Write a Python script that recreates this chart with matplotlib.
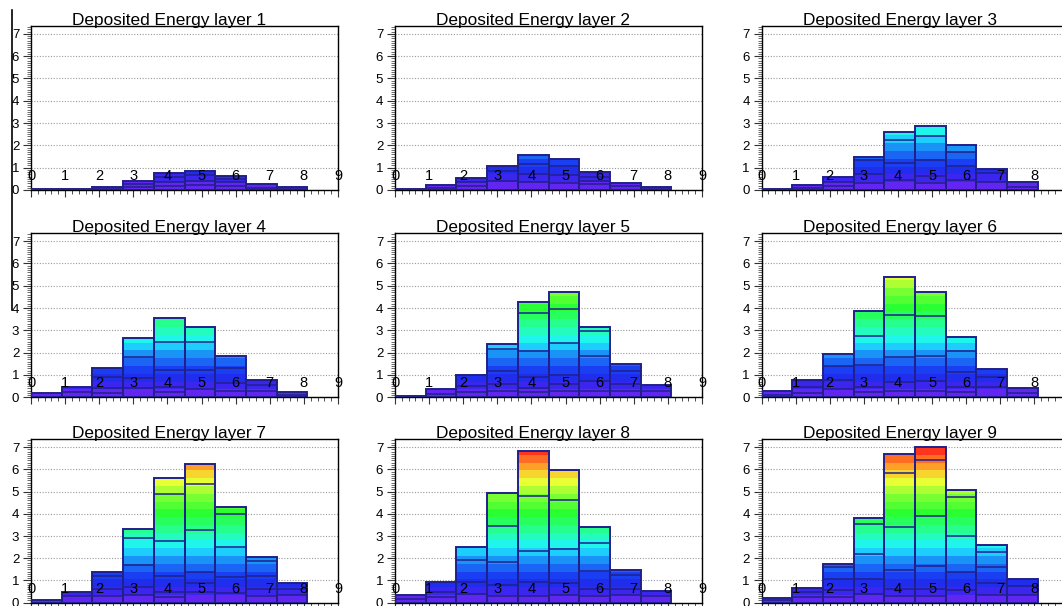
import numpy as np
import matplotlib
matplotlib.use("Agg")
import matplotlib.pyplot as plt
from matplotlib.lines import Line2D
from matplotlib.colors import LinearSegmentedColormap
from matplotlib.ticker import FixedLocator, MultipleLocator, NullFormatter

plt.rcParams["font.family"] = ["Liberation Sans", "DejaVu Sans"]

# ---- data: deposited energy per bin, one list per calorimeter layer ----
bins = np.arange(10)
axis_labels = [str(k) for k in range(10)]

layer_1 = [0.03, 0.04, 0.15, 0.42, 0.78, 0.87, 0.63, 0.26, 0.12, 0.0]
layer_2 = [0.05, 0.23, 0.53, 1.08, 1.55, 1.41, 0.80, 0.33, 0.12, 0.0]
layer_3 = [0.05, 0.22, 0.58, 1.46, 2.58, 2.88, 2.03, 0.94, 0.34, 0.0]
layer_4 = [0.18, 0.48, 1.30, 2.66, 3.54, 3.13, 1.85, 0.76, 0.25, 0.0]
layer_5 = [0.06, 0.35, 0.98, 2.39, 4.28, 4.70, 3.17, 1.50, 0.57, 0.0]
layer_6 = [0.28, 0.78, 1.96, 3.88, 5.40, 4.72, 2.70, 1.27, 0.40, 0.0]
layer_7 = [0.12, 0.47, 1.38, 3.31, 5.59, 6.23, 4.32, 2.06, 0.87, 0.0]
layer_8 = [0.36, 0.93, 2.50, 4.95, 6.81, 5.95, 3.40, 1.47, 0.54, 0.0]
layer_9 = [0.21, 0.68, 1.74, 3.83, 6.67, 7.00, 5.09, 2.58, 1.05, 0.0]

# edges of the stacked cells inside each bin (front view of the lego plot)
cells_1 = [[], [], [0.05], [0.15, 0.28], [0.2, 0.38, 0.6], [0.22, 0.4, 0.65],
           [0.18, 0.35, 0.5], [0.1], [0.05], []]
cells_2 = [[], [0.1], [0.17, 0.35], [0.42, 0.85], [0.35, 0.7, 1.15], [0.3, 0.65, 1.08],
           [0.27, 0.42, 0.6], [0.2], [0.05], []]
cells_3 = [[], [0.1], [0.2, 0.37], [0.33, 0.72, 1.34], [0.45, 1.22, 2.24],
           [0.3, 0.64, 1.34, 2.42], [0.45, 1.09, 1.72], [0.37, 0.75], [0.15], []]
cells_4 = [[], [0.25], [0.2, 0.4, 0.93], [0.43, 0.85, 1.82], [0.25, 0.48, 1.22, 2.46],
           [0.37, 1.22, 2.49], [0.3, 0.66, 1.3], [0.3, 0.55], [0.1], []]
cells_5 = [[], [0.15], [0.25, 0.5], [0.3, 0.6, 1.17, 2.17], [0.25, 0.4, 0.9, 2.07, 3.79],
           [0.3, 0.6, 0.98, 2.43, 3.94], [0.3, 0.75, 1.83, 2.98], [0.3, 0.6, 1.2], [0.3], []]
cells_6 = [[0.1], [0.2, 0.45], [0.35, 0.79, 1.42], [0.25, 0.48, 1.45, 2.75],
           [0.3, 0.7, 1.81, 3.69], [0.3, 0.75, 1.87, 3.63], [0.25, 0.45, 1.15, 2.09],
           [0.45, 0.9], [0.2], []]
cells_7 = [[], [0.3], [0.3, 0.6, 1.2], [0.35, 0.72, 1.71, 2.93], [0.25, 0.5, 1.2, 2.77, 4.9],
           [0.5, 0.9, 1.4, 3.28, 5.34], [0.45, 1.14, 2.51, 4.01], [0.3, 0.6, 1.22, 1.88],
           [0.35, 0.6], []]
cells_8 = [[0.15], [0.25, 0.5], [0.4, 0.92, 1.92], [0.3, 0.8, 1.85, 3.46],
           [0.3, 0.95, 2.33, 4.78], [0.35, 0.87, 2.41, 4.63], [0.3, 0.6, 1.44, 2.68],
           [0.35, 0.6, 1.25], [0.3], []]
cells_9 = [[0.1], [0.25, 0.5], [0.25, 0.57, 1.05, 1.59], [0.4, 1.08, 2.19, 3.53],
           [0.3, 0.6, 1.49, 3.42, 5.83], [0.3, 0.6, 1.65, 3.92, 6.41],
           [0.55, 1.4, 3.0, 4.77], [0.35, 0.87, 1.59, 2.27], [0.35, 0.75], []]

layers = [layer_1, layer_2, layer_3, layer_4, layer_5, layer_6, layer_7, layer_8, layer_9]
cells = [cells_1, cells_2, cells_3, cells_4, cells_5, cells_6, cells_7, cells_8, cells_9]
titles = [f"Deposited Energy layer {i}" for i in range(1, 10)]

# ---- colour levels: rainbow palette from violet (low) to red (high) ----
z_max = 7.0
n_levels = 20
levels = np.linspace(0.0, z_max, n_levels + 1)

palette = LinearSegmentedColormap.from_list("pretty", [
    (0.0 / 7, (0.45, 0.15, 0.95)),
    (0.35 / 7, (0.32, 0.15, 0.95)),
    (0.7 / 7, (0.14, 0.14, 0.92)),
    (1.2 / 7, (0.10, 0.24, 0.95)),
    (1.8 / 7, (0.10, 0.50, 0.96)),
    (2.5 / 7, (0.12, 0.95, 1.00)),
    (3.2 / 7, (0.15, 1.00, 0.62)),
    (4.0 / 7, (0.15, 1.00, 0.20)),
    (4.8 / 7, (0.50, 1.00, 0.20)),
    (5.5 / 7, (0.95, 1.00, 0.20)),
    (6.2 / 7, (1.00, 0.60, 0.15)),
    (7.0 / 7, (1.00, 0.10, 0.10)),
])
level_colours = [palette((i + 0.5) / n_levels) for i in range(n_levels)]
edge_colour = "#20208a"

# ---- layout (pixels) ----
W, H = 1062, 606
col_left = [31, 395, 761.5]
ax_w = 307
row_top = [26, 233.3, 439.3]
row_bot = [190, 397.3, 602.7]
y_top = 7.35

fig = plt.figure(figsize=(W / 100, H / 100), dpi=100)

for idx, (heights, cell_edges, title) in enumerate(zip(layers, cells, titles)):
    r, c = divmod(idx, 3)
    left = col_left[c] / W
    bottom = 1 - row_bot[r] / H
    height = (row_bot[r] - row_top[r]) / H
    ax = fig.add_axes([left, bottom, ax_w / W, height])
    ax.set_xlim(0, 10)
    ax.set_ylim(0, y_top)
    ax.set_axisbelow(True)

    # dotted horizontal grid
    ax.yaxis.set_major_locator(MultipleLocator(1))
    ax.yaxis.set_minor_locator(MultipleLocator(0.1))
    ax.grid(axis="y", which="major", color="#9a9a9a", linestyle=(0, (1, 1.5)), lw=0.8)

    # colour bands within each bar
    for b, h in zip(bins, heights):
        if h <= 0:
            continue
        for i in range(n_levels):
            lo, hi = levels[i], min(levels[i + 1], h)
            if hi <= lo:
                break
            ax.bar(b + 0.5, hi - lo, bottom=lo, width=1.0, color=level_colours[i],
                   edgecolor="none", linewidth=0, zorder=2)

    # cell boundaries and bar outlines
    for b, h, edges in zip(bins, heights, cell_edges):
        if h <= 0:
            continue
        if edges:
            ax.hlines(edges, b, b + 1, colors=edge_colour, lw=1.1, zorder=3)
        ax.bar(b + 0.5, h, width=1.0, fill=False, edgecolor=edge_colour,
               linewidth=1.4, zorder=4)

    # axis labels drawn inside the frame (x in axes fraction, y in data units)
    for k, lab in enumerate(axis_labels):
        ax.text(k / 9, 0.62, lab, transform=ax.get_yaxis_transform(), fontsize=10.5,
                color="black", ha="center", va="center", zorder=5, clip_on=False)

    # x ticks at the label positions
    ax.xaxis.set_major_locator(FixedLocator([k * 10 / 9 for k in range(10)]))
    ax.xaxis.set_minor_locator(FixedLocator([k * 10 / 45 for k in range(46)]))
    ax.xaxis.set_major_formatter(NullFormatter())
    ax.tick_params(axis="x", which="major", direction="out", length=5, width=0.8, color="#333333")
    ax.tick_params(axis="x", which="minor", direction="out", length=3, width=0.6, color="#333333")
    ax.tick_params(axis="y", which="major", direction="out", length=6, width=0.8,
                   labelsize=9.5, pad=2.5, color="#333333")
    ax.tick_params(axis="y", which="minor", direction="out", length=3, width=0.5, color="#333333")
    ax.set_yticks(range(8))

    for sp in ax.spines.values():
        sp.set_color("black")
        sp.set_linewidth(1.0)

    ax.text(0.45, 1.008, title, transform=ax.transAxes, ha="center", va="baseline",
            fontsize=12.4, color="black")

fig.add_artist(Line2D([12 / W, 12 / W], [1 - 10 / H, 1 - 310 / H], color="black", lw=1.2))

fig.savefig("out.png", dpi=100, facecolor="white")
